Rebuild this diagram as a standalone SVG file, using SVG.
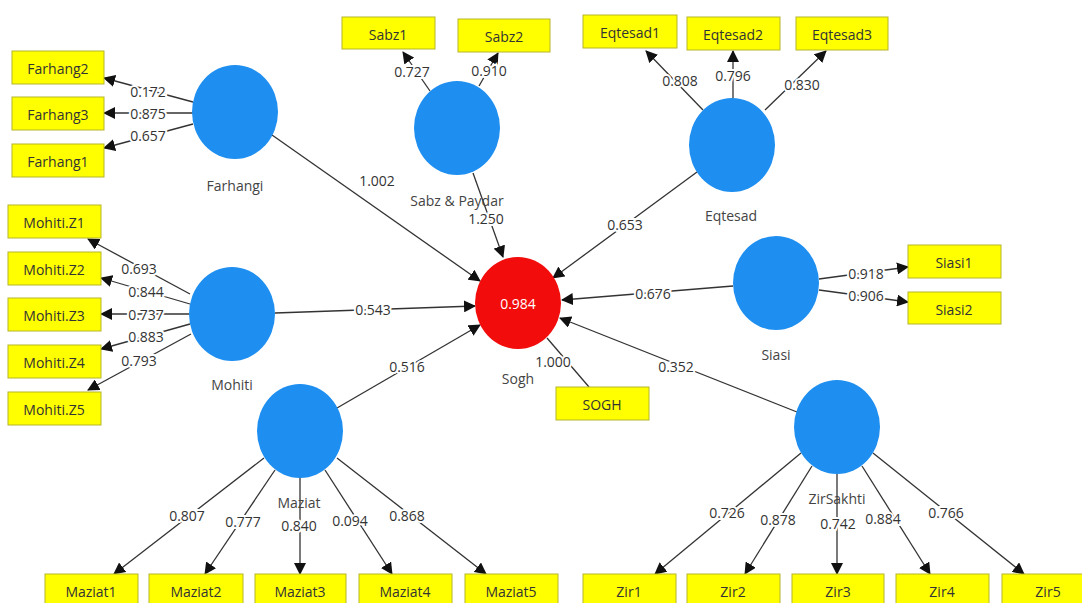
<svg xmlns="http://www.w3.org/2000/svg" width="1082" height="603" viewBox="0 0 1082 603">
<style>
.bg{fill:#ffffff}
.lv{fill:#1e8ff0}
.dv{fill:#f20c0c}
.mv{fill:#ffff00;stroke:#b5b52a;stroke-width:1}
.bt{font-family:"Open Sans","Liberation Sans",sans-serif;font-size:14px;fill:#333;text-anchor:middle;dominant-baseline:central}
.nl{font-family:"Open Sans","Liberation Sans",sans-serif;font-size:14px;fill:#444;text-anchor:middle;dominant-baseline:central}
.el{font-family:"Open Sans","Liberation Sans",sans-serif;font-size:14px;fill:#333;text-anchor:middle;dominant-baseline:central;stroke:#fff;stroke-width:4;paint-order:stroke}
.cl{stroke:#333;stroke-width:1.3;fill:none}
.ar{marker-end:url(#ah)}
</style>
<defs>
<marker id="ah" markerUnits="userSpaceOnUse" markerWidth="12" markerHeight="12" refX="11" refY="6" orient="auto">
<path d="M0,0 L12,6 L0,12 Z" fill="#111"/>
</marker>
</defs>
<rect class="bg" x="0" y="0" width="1082" height="603"/>

<g id="connectors">
<!-- Farhangi -->
<line class="cl ar" x1="193" y1="102" x2="104" y2="78"/>
<line class="cl ar" x1="193" y1="113" x2="104" y2="113"/>
<line class="cl ar" x1="193" y1="124" x2="104" y2="148"/>
<!-- Sabz -->
<line class="cl ar" x1="430" y1="91" x2="403" y2="52"/>
<line class="cl ar" x1="479" y1="86" x2="498" y2="53"/>
<!-- Eqtesad -->
<line class="cl ar" x1="703" y1="110" x2="646" y2="51"/>
<line class="cl ar" x1="733" y1="98" x2="733" y2="51"/>
<line class="cl ar" x1="765" y1="110" x2="826" y2="51"/>
<!-- Mohiti -->
<line class="cl ar" x1="190" y1="294" x2="88" y2="239"/>
<line class="cl ar" x1="190" y1="304" x2="101" y2="278"/>
<line class="cl ar" x1="189" y1="314" x2="101" y2="314"/>
<line class="cl ar" x1="190" y1="324" x2="101" y2="349"/>
<line class="cl ar" x1="191" y1="334" x2="88" y2="390"/>
<!-- Siasi -->
<line class="cl ar" x1="819" y1="279" x2="908" y2="267"/>
<line class="cl ar" x1="819" y1="290" x2="908" y2="302"/>
<!-- Maziat -->
<line class="cl ar" x1="264" y1="458" x2="114" y2="574"/>
<line class="cl ar" x1="275" y1="470" x2="205" y2="574"/>
<line class="cl ar" x1="300" y1="478" x2="300" y2="574"/>
<line class="cl ar" x1="325" y1="470" x2="392" y2="574"/>
<line class="cl ar" x1="337" y1="458" x2="486" y2="574"/>
<!-- ZirSakhti -->
<line class="cl ar" x1="801" y1="453" x2="655" y2="574"/>
<line class="cl ar" x1="812" y1="466" x2="745" y2="574"/>
<line class="cl ar" x1="837" y1="474" x2="837" y2="574"/>
<line class="cl ar" x1="862" y1="466" x2="930" y2="574"/>
<line class="cl ar" x1="873" y1="453" x2="1024" y2="574"/>
<!-- structural -->
<line class="cl ar" x1="272" y1="135" x2="480" y2="281"/>
<line class="cl ar" x1="473" y1="173" x2="503" y2="257"/>
<line class="cl ar" x1="697" y1="172" x2="553" y2="278"/>
<line class="cl ar" x1="275" y1="313" x2="475" y2="306"/>
<line class="cl ar" x1="733" y1="286" x2="562" y2="300"/>
<line class="cl ar" x1="337" y1="408" x2="480" y2="325"/>
<line class="cl ar" x1="797" y1="412" x2="560" y2="318"/>
<line class="cl" x1="547" y1="338" x2="589" y2="387"/>
<!-- edge labels -->
<text class="el" x="148" y="91">0.172</text>
<text class="el" x="148" y="113">0.875</text>
<text class="el" x="148" y="135">0.657</text>
<text class="el" x="412" y="71">0.727</text>
<text class="el" x="489" y="70">0.910</text>
<text class="el" x="680" y="80">0.808</text>
<text class="el" x="733" y="75">0.796</text>
<text class="el" x="802" y="84">0.830</text>
<text class="el" x="139" y="268">0.693</text>
<text class="el" x="146" y="291">0.844</text>
<text class="el" x="146" y="314">0.737</text>
<text class="el" x="146" y="336">0.883</text>
<text class="el" x="139" y="360">0.793</text>
<text class="el" x="866" y="273">0.918</text>
<text class="el" x="866" y="295">0.906</text>
<text class="el" x="187" y="515">0.807</text>
<text class="el" x="243" y="521">0.777</text>
<text class="el" x="299" y="525">0.840</text>
<text class="el" x="350" y="520">0.094</text>
<text class="el" x="407" y="515">0.868</text>
<text class="el" x="727" y="512">0.726</text>
<text class="el" x="778" y="519">0.878</text>
<text class="el" x="838" y="523">0.742</text>
<text class="el" x="883" y="518">0.884</text>
<text class="el" x="946" y="512">0.766</text>
<text class="el" x="377" y="180">1.002</text>
<text class="el" x="486" y="218">1.250</text>
<text class="el" x="625" y="224">0.653</text>
<text class="el" x="373" y="309">0.543</text>
<text class="el" x="653" y="293">0.676</text>
<text class="el" x="407" y="366">0.516</text>
<text class="el" x="676" y="366">0.352</text>
<text class="el" x="553" y="361">1.000</text>
</g>

<g id="Farhangi"><ellipse class="lv" cx="235" cy="112" rx="43" ry="47"/><text class="nl" x="235" y="185">Farhangi</text></g>
<g id="SabzPaydar"><ellipse class="lv" cx="457" cy="128" rx="43" ry="47"/><text class="nl" x="457" y="200">Sabz &amp; Paydar</text></g>
<g id="Eqtesad"><ellipse class="lv" cx="732" cy="145" rx="43" ry="47"/><text class="nl" x="731" y="215">Eqtesad</text></g>
<g id="Mohiti"><ellipse class="lv" cx="232" cy="314" rx="43" ry="47"/><text class="nl" x="232" y="384">Mohiti</text></g>
<g id="Sogh"><ellipse class="dv" cx="518" cy="303" rx="43" ry="46"/><text class="bt" x="518" y="303" style="fill:#fff">0.984</text><text class="nl" x="518" y="378">Sogh</text></g>
<g id="Siasi"><ellipse class="lv" cx="776" cy="283" rx="43" ry="47"/><text class="nl" x="776" y="354">Siasi</text></g>
<g id="Maziat"><ellipse class="lv" cx="300" cy="431" rx="43" ry="47"/><text class="nl" x="299" y="502">Maziat</text></g>
<g id="ZirSakhti"><ellipse class="lv" cx="837" cy="427" rx="43" ry="47"/><text class="nl" x="837" y="498">ZirSakhti</text></g>

<g id="Farhang2"><rect class="mv" x="12" y="51" width="92" height="33"/><text class="bt" x="58" y="68">Farhang2</text></g>
<g id="Farhang3"><rect class="mv" x="12" y="97" width="92" height="33"/><text class="bt" x="58" y="114">Farhang3</text></g>
<g id="Farhang1"><rect class="mv" x="12" y="144" width="92" height="33"/><text class="bt" x="58" y="161">Farhang1</text></g>
<g id="Sabz1"><rect class="mv" x="342" y="17" width="93" height="32"/><text class="bt" x="388" y="34">Sabz1</text></g>
<g id="Sabz2"><rect class="mv" x="458" y="19" width="92" height="33"/><text class="bt" x="504" y="36">Sabz2</text></g>
<g id="Eqtesad1"><rect class="mv" x="583" y="15" width="94" height="33"/><text class="bt" x="630" y="32">Eqtesad1</text></g>
<g id="Eqtesad2"><rect class="mv" x="687" y="17" width="93" height="33"/><text class="bt" x="733" y="34">Eqtesad2</text></g>
<g id="Eqtesad3"><rect class="mv" x="796" y="17" width="92" height="33"/><text class="bt" x="842" y="34">Eqtesad3</text></g>
<g id="MohitiZ1"><rect class="mv" x="8" y="205" width="93" height="33"/><text class="bt" x="54" y="222">Mohiti.Z1</text></g>
<g id="MohitiZ2"><rect class="mv" x="8" y="252" width="93" height="33"/><text class="bt" x="54" y="269">Mohiti.Z2</text></g>
<g id="MohitiZ3"><rect class="mv" x="8" y="298" width="93" height="33"/><text class="bt" x="54" y="315">Mohiti.Z3</text></g>
<g id="MohitiZ4"><rect class="mv" x="8" y="345" width="93" height="33"/><text class="bt" x="54" y="362">Mohiti.Z4</text></g>
<g id="MohitiZ5"><rect class="mv" x="8" y="392" width="93" height="33"/><text class="bt" x="54" y="409">Mohiti.Z5</text></g>
<g id="SOGH"><rect class="mv" x="556" y="387" width="93" height="33"/><text class="bt" x="602" y="404">SOGH</text></g>
<g id="Siasi1"><rect class="mv" x="908" y="245" width="93" height="33"/><text class="bt" x="954" y="262">Siasi1</text></g>
<g id="Siasi2"><rect class="mv" x="908" y="292" width="93" height="32"/><text class="bt" x="954" y="309">Siasi2</text></g>
<g id="Maziat1"><rect class="mv" x="45" y="574" width="93" height="34"/><text class="bt" x="91" y="591">Maziat1</text></g>
<g id="Maziat2"><rect class="mv" x="149" y="574" width="94" height="34"/><text class="bt" x="196" y="591">Maziat2</text></g>
<g id="Maziat3"><rect class="mv" x="255" y="574" width="91" height="34"/><text class="bt" x="300" y="591">Maziat3</text></g>
<g id="Maziat4"><rect class="mv" x="359" y="574" width="93" height="34"/><text class="bt" x="405" y="591">Maziat4</text></g>
<g id="Maziat5"><rect class="mv" x="465" y="574" width="93" height="34"/><text class="bt" x="511" y="591">Maziat5</text></g>
<g id="Zir1"><rect class="mv" x="583" y="574" width="93" height="34"/><text class="bt" x="629" y="591">Zir1</text></g>
<g id="Zir2"><rect class="mv" x="687" y="574" width="93" height="34"/><text class="bt" x="733" y="591">Zir2</text></g>
<g id="Zir3"><rect class="mv" x="792" y="574" width="92" height="34"/><text class="bt" x="838" y="591">Zir3</text></g>
<g id="Zir4"><rect class="mv" x="896" y="574" width="93" height="34"/><text class="bt" x="942" y="591">Zir4</text></g>
<g id="Zir5"><rect class="mv" x="1002" y="574" width="93" height="34"/><text class="bt" x="1048" y="591">Zir5</text></g>
</svg>
